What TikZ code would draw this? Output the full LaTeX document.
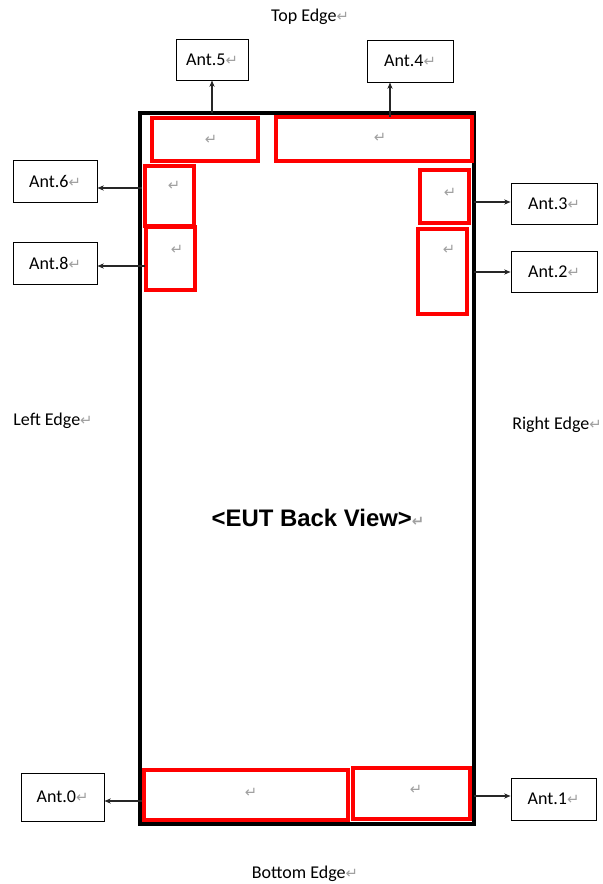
\documentclass[tikz,border=0pt]{standalone}
\usepackage{fontspec}
\setmainfont{Carlito}
\newfontfamily\viewfont{Liberation Sans}
\newfontfamily\markfont{DejaVu Sans}
\usetikzlibrary{arrows.meta}
\definecolor{areaRed}{RGB}{255,0,0}
\definecolor{markGray}{RGB}{160,160,160}
\newdimen\px
\px=0.025cm
\newcommand{\parmark}{{\markfont\color{markGray}\fontsize{10.5}{10.5}\selectfont ↵}}
\tikzset{
  ant box/.style={draw=black,line width=0.65pt,inner sep=0pt,font=\fontsize{12.8}{14}\selectfont},
  ant area/.style={draw=areaRed,line width=2.4pt,inner sep=0pt},
  body frame/.style={draw=black,line width=2.2pt,inner sep=0pt},
  edge label/.style={inner sep=0pt,font=\fontsize{12.8}{14}\selectfont},
  para mark/.style={inner sep=0pt},
  feed arrow/.style={-{Stealth[length=1.6mm,width=1.3mm]},line width=0.75pt,draw=black!85}
}
\begin{document}
\begin{tikzpicture}[x=0.025cm,y=-0.025cm]
  \useasboundingbox (0,0) rectangle (603,884);
  % phone body
  \node[body frame,minimum width=334\px,minimum height=711\px] (body) at (307,468.5) {};
  % antenna areas
  \node[ant area,minimum width=106\px,minimum height=43\px] (area5) at (205,139.5) {};
  \node[ant area,minimum width=196\px,minimum height=44\px] (area4) at (374,139) {};
  \node[ant area,minimum width=49\px,minimum height=60\px] (area6) at (169.5,196) {};
  \node[ant area,minimum width=49\px,minimum height=63\px] (area8) at (170.5,258.5) {};
  \node[ant area,minimum width=49\px,minimum height=53\px] (area3) at (444.5,196.5) {};
  \node[ant area,minimum width=49\px,minimum height=85\px] (area2) at (442.5,271.5) {};
  \node[ant area,minimum width=204\px,minimum height=50\px] (area0) at (246,795) {};
  \node[ant area,minimum width=117\px,minimum height=51\px] (area1) at (411.5,793.5) {};
  \node[para mark] (mark5) at (211,140) {\parmark};
  \node[para mark] (mark4) at (380,138) {\parmark};
  \node[para mark] (mark6) at (174,186) {\parmark};
  \node[para mark] (mark8) at (177,250) {\parmark};
  \node[para mark] (mark3) at (450,193) {\parmark};
  \node[para mark] (mark2) at (449,250) {\parmark};
  \node[para mark] (mark0) at (251,793) {\parmark};
  \node[para mark] (mark1) at (416,790) {\parmark};
  % antenna labels
  \node[ant box,minimum width=72\px,minimum height=41\px] (ant5) at (212,59.5) {Ant.5\parmark};
  \node[ant box,minimum width=86\px,minimum height=42\px] (ant4) at (410,61) {Ant.4\parmark};
  \node[ant box,minimum width=84\px,minimum height=42\px] (ant6) at (55,181) {Ant.6\parmark};
  \node[ant box,minimum width=84\px,minimum height=42\px] (ant8) at (55,263) {Ant.8\parmark};
  \node[ant box,minimum width=86\px,minimum height=41\px] (ant3) at (554,203.5) {Ant.3\parmark};
  \node[ant box,minimum width=86\px,minimum height=41\px] (ant2) at (554,271.5) {Ant.2\parmark};
  \node[ant box,minimum width=83\px,minimum height=48\px] (ant0) at (62.5,797) {Ant.0\parmark};
  \node[ant box,minimum width=85\px,minimum height=42\px] (ant1) at (553.5,799) {Ant.1\parmark};
  % feed points
  \coordinate (feed5) at (212,113);
  \coordinate (feed4) at (390,117);
  \coordinate (feed6) at (142,188);
  \coordinate (feed8) at (145,266);
  \coordinate (feed3) at (474,202);
  \coordinate (feed2) at (474,272);
  \coordinate (feed0) at (142,801);
  \coordinate (feed1) at (474,796);
  \draw[feed arrow] (feed5) -- (feed5 |- ant5.south);
  \draw[feed arrow] (feed4) -- (feed4 |- ant4.south);
  \draw[feed arrow] (feed6) -- (feed6 -| ant6.east);
  \draw[feed arrow] (feed8) -- (feed8 -| ant8.east);
  \draw[feed arrow] (feed3) -- (feed3 -| ant3.west);
  \draw[feed arrow] (feed2) -- (feed2 -| ant2.west);
  \draw[feed arrow] (feed0) -- (feed0 -| ant0.east);
  \draw[feed arrow] (feed1) -- (feed1 -| ant1.west);
  % edge names
  \node[edge label] (top) at (310,17) {Top Edge\parmark};
  \node[edge label] (left) at (53,421) {Left Edge\parmark};
  \node[edge label] (right) at (557,425) {Right Edge\parmark};
  \node[edge label] (bottom) at (305,874) {Bottom Edge\parmark};
  \node[inner sep=0pt,font=\viewfont\bfseries\fontsize{17}{19}\selectfont] (view) at (318,518) {<EUT Back View>\parmark};
\end{tikzpicture}
\end{document}
